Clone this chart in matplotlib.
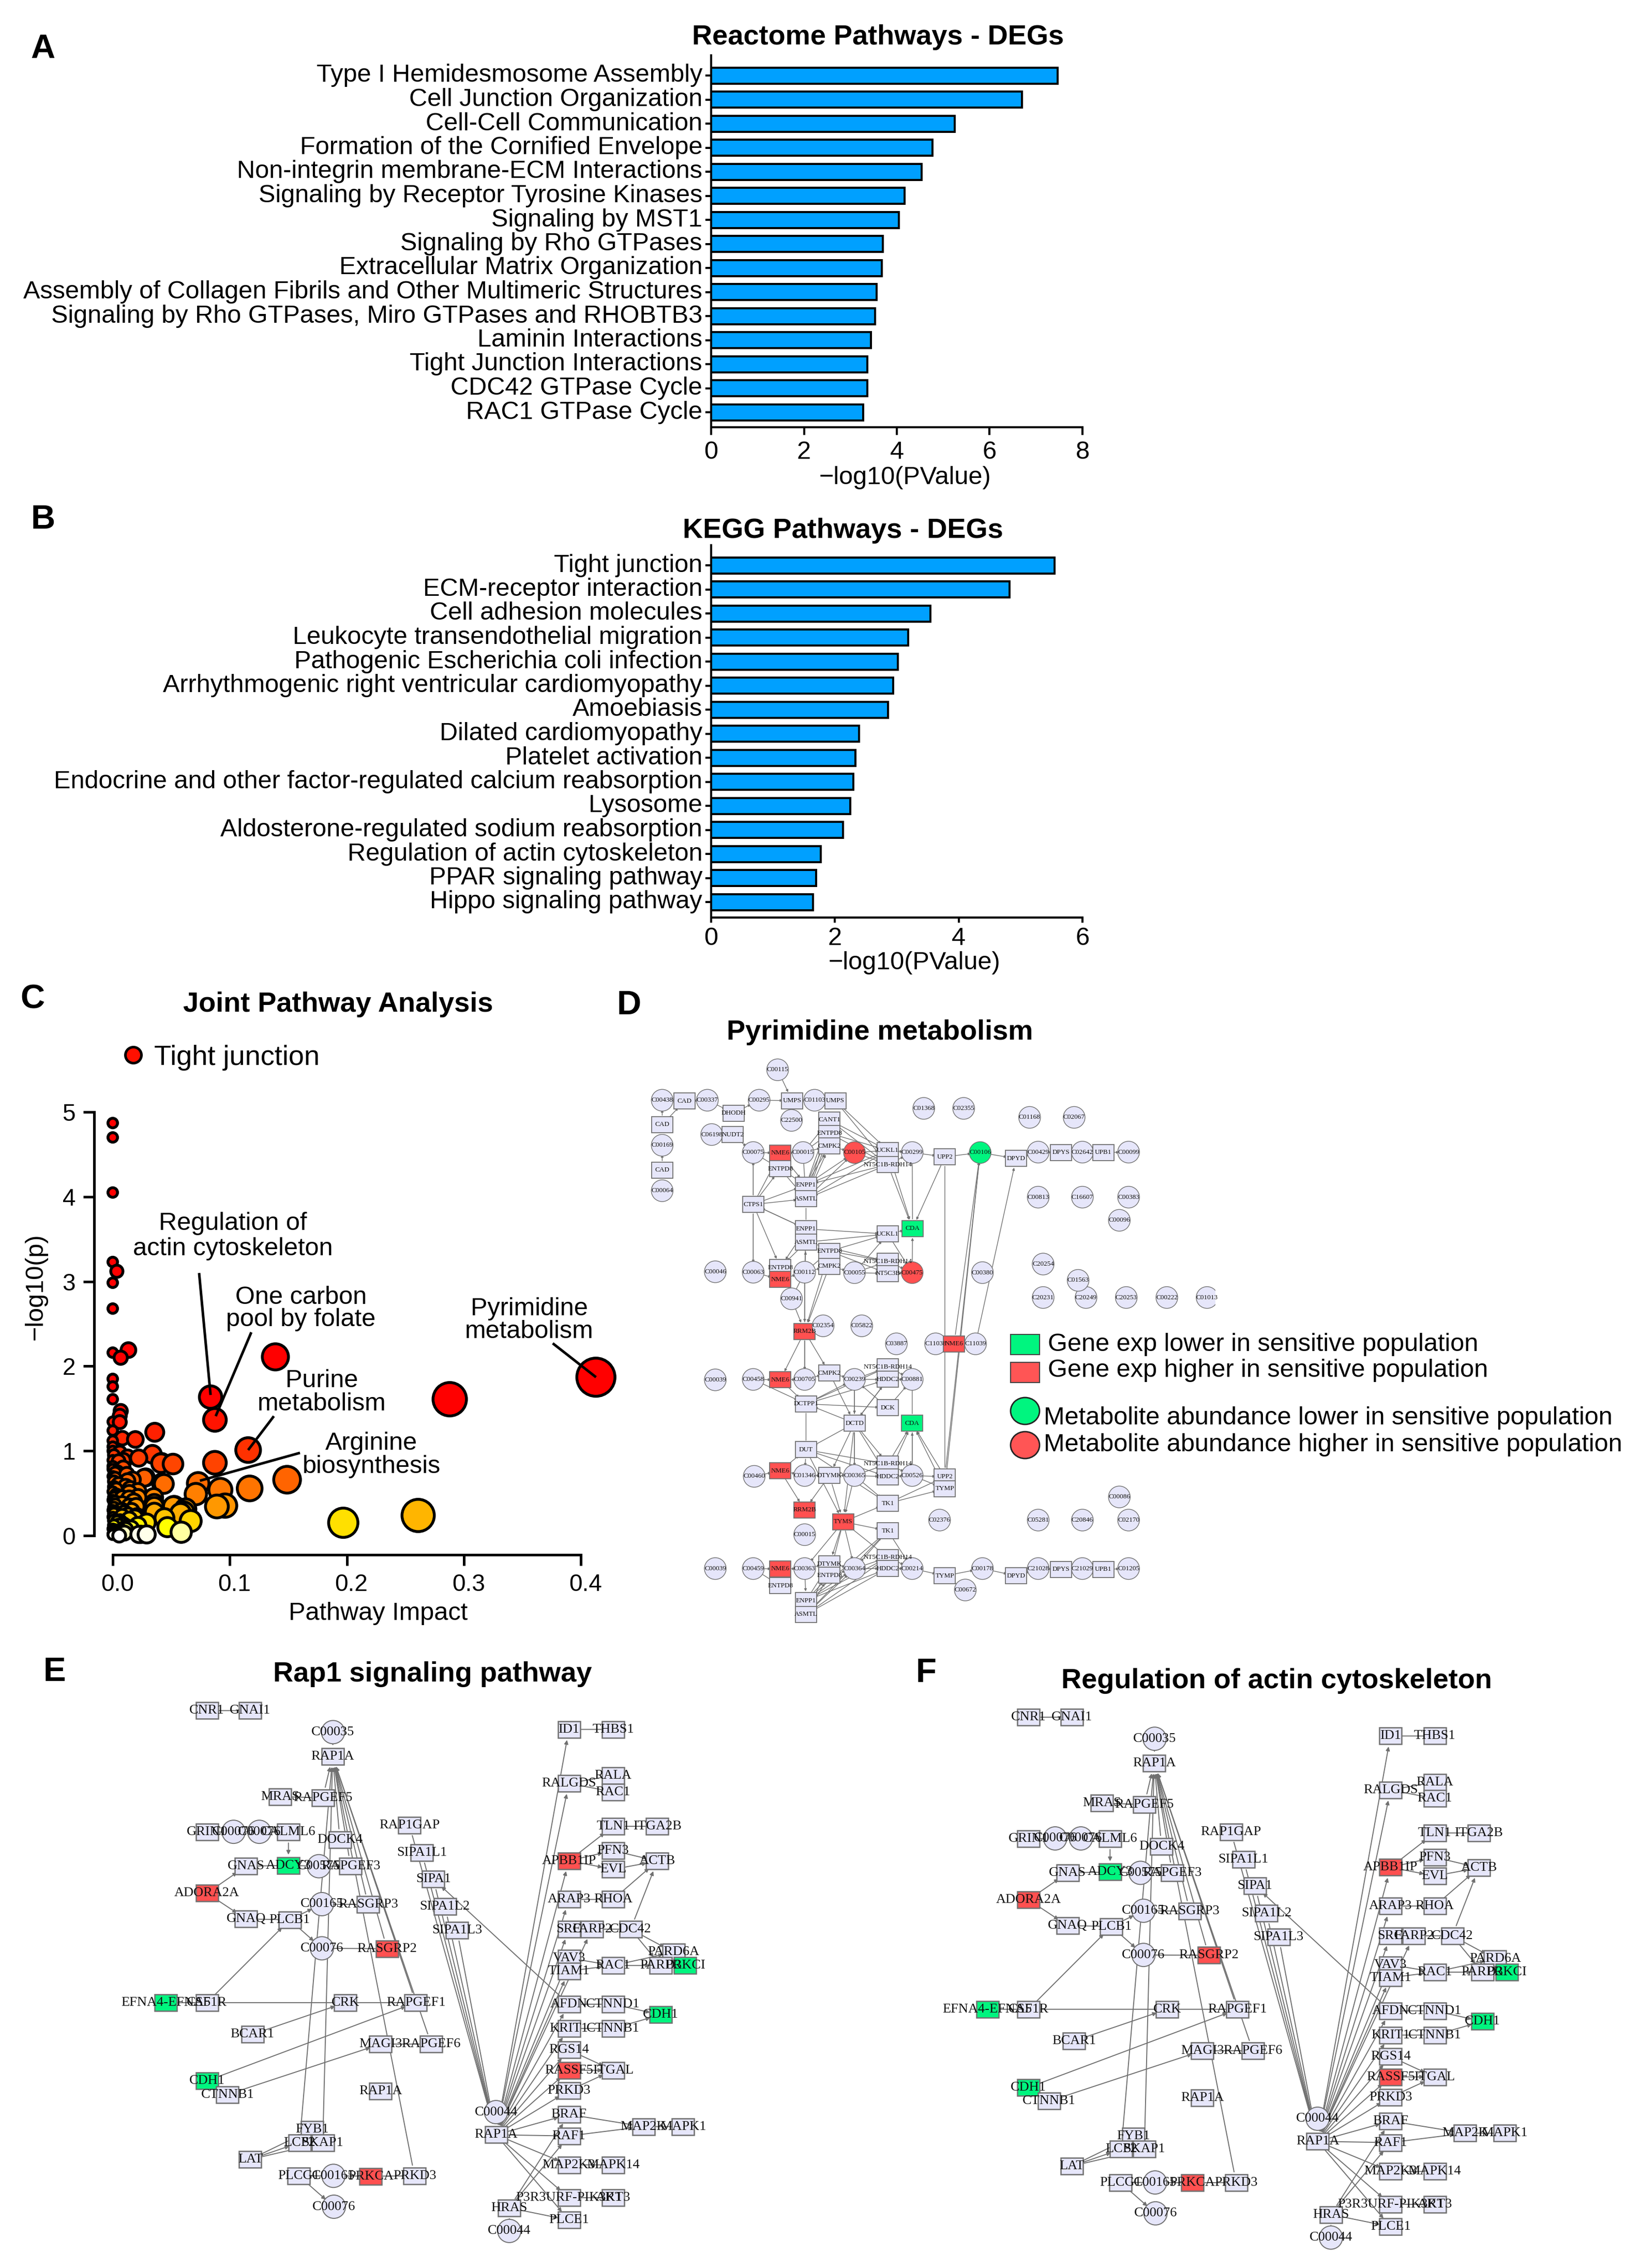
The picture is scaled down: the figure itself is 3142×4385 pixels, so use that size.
import numpy as np
import matplotlib
matplotlib.use("Agg")
import matplotlib.pyplot as plt
from matplotlib.patches import Rectangle, Ellipse, FancyArrowPatch
from matplotlib.transforms import ScaledTranslation

plt.rcParams['font.family'] = ['Liberation Sans', 'DejaVu Sans']

W, H = 3142, 4385
DPI = 100
PT = 72 / DPI  # points per pixel

# ---------- data: bar panels ----------
reactome_terms = ["Type I Hemidesmosome Assembly", "Cell Junction Organization", "Cell-Cell Communication",
                  "Formation of the Cornified Envelope", "Non-integrin membrane-ECM Interactions",
                  "Signaling by Receptor Tyrosine Kinases", "Signaling by MST1", "Signaling by Rho GTPases",
                  "Extracellular Matrix Organization", "Assembly of Collagen Fibrils and Other Multimeric Structures",
                  "Signaling by Rho GTPases, Miro GTPases and RHOBTB3", "Laminin Interactions",
                  "Tight Junction Interactions", "CDC42 GTPase Cycle", "RAC1 GTPase Cycle"]
reactome_vals = [7.47, 6.70, 5.25, 4.77, 4.53, 4.17, 4.05, 3.70, 3.68, 3.56, 3.53, 3.44, 3.37, 3.37, 3.28]

kegg_terms = ["Tight junction", "ECM-receptor interaction", "Cell adhesion molecules",
              "Leukocyte transendothelial migration", "Pathogenic Escherichia coli infection",
              "Arrhythmogenic right ventricular cardiomyopathy", "Amoebiasis", "Dilated cardiomyopathy",
              "Platelet activation", "Endocrine and other factor-regulated calcium reabsorption", "Lysosome",
              "Aldosterone-regulated sodium reabsorption", "Regulation of actin cytoskeleton",
              "PPAR signaling pathway", "Hippo signaling pathway"]
kegg_vals = [5.55, 4.82, 3.54, 3.18, 3.02, 2.94, 2.86, 2.39, 2.33, 2.30, 2.25, 2.13, 1.77, 1.70, 1.65]

# ---------- data: scatter panel ----------
impact = [0, 0, 0, 0, .0035, 0, 0, 0, .0134, .0068, 0, 0, 0, .0068, .006, .006, 0, 0, .0082, .0193, .0359, 0, 0,
          .0339, .0222, .009, .0127, .0412, .0515, 0, 0, .005, .0282, .0437, .0127, .017, .002, .001, .005, .0141,
          .0215, .035, .001, .0082, .002, .0215, .0355, .0141, .02, .001, .0355, .0525, .0622, .058, .0442, .0666,
          .0467, .0585, .0224, .029, .0055, 0, .0156, .0215, .005, .001, .0141, .0206, .029,
          .4129, .288, .139, .0836, .0873, .1157, .0873, .149, .117, .073, .071, .092, .089, .096, .197, .261,
          .0416, .042, .027, .0355, .0518, .0606, .0237, .008, .004, .003, .008, .011,
          0, .001, 0, .002, 0, .001, 0, .003, 0, .002, .001, 0, .002, 0, .001, .004, 0, .002, .001, 0,
          .006, .009, .012, .015, .005, .008, .011, .014, .018, .007, .01, .013, .016, .006, .009, .012, .019, .004, .007, .01]
logp = [4.87, 4.70, 4.05, 3.23, 3.12, 2.985, 2.68, 2.16, 2.19, 2.10, 1.85, 1.76, 1.61, 1.47, 1.415, 1.34, 1.345,
        1.24, 1.15, 1.135, 1.22, 1.12, 1.05, .96, .915, .89, .925, .855, .845, .89, .785, .88, .687, .61, .645, .66,
        .68, .575, .61, .505, .52, .45, .45, .45, .365, .45, .38, .345, .345, .26, .277, .347, .312, .26, .207,
        .172, .10, .04, .014, .014, 0, .01, .084, .12, .12, .12, .19, .224, .154,
        1.87, 1.61, 2.11, 1.635, 1.366, 1.01, .86, .66, .557, .617, .49, .54, .344, .354, .152, .238,
        .86, .617, .683, .344, .344, .278, .015, .30, .75, .55, .23, .07,
        1.0, .95, .82, .74, .70, .64, .52, .48, .42, .40, .33, .30, .28, .22, .18, .16, .08, .06, .03, .02,
        .98, .80, .72, .55, .46, .38, .58, .44, .40, .30, .27, .24, .29, .17, .13, .10, .21, .035, .05, .03]
label_text = ["Regulation of\nactin cytoskeleton", "One carbon\npool by folate", "Pyrimidine\nmetabolism",
              "Purine\nmetabolism", "Arginine\nbiosynthesis"]
label_xy = [(.1026, 3.535), (.1609, 2.68), (.356, 2.54), (.1787, 1.69), (.2211, 0.95)]
label_spacing = [1.12, .97, .97, 1.0, 1.0]
leader_x = [(.0738, .0836), (.1184, .088), (.376, .413), (.1377, .1157), (.16, .0745)]
leader_y = [(3.10, 1.66), (2.40, 1.41), (2.27, 1.87), (1.41, 1.01), (.977, .648)]

# ---------- data: pathway networks (node id, x, y, type) ----------
# id text before '#' is the node label; g gene, c compound; r/g suffix = higher / lower
D_NODES = [("C00115",476,203,"c"),("C00438",126,274,"c"),("CAD",194,276,"g"),("C00337",263,274,"c"),("DHODH",343,304,"g"),
 ("C00295",420,274,"c"),("UMPS",520,275,"g"),("C01103",588,274,"c"),("UMPS#b",651,275,"g"),("C22500",518,321,"c"),
 ("CAD#b",126,331,"g"),("C00169",126,379,"c"),("CAD#c",126,437,"g"),("C00064",126,485,"c"),("C06198",276,354,"c"),
 ("NUDT2",340,354,"g"),("CANT1",633,320,"g"),("ENTPD8#b",633,351,"g"),("CMPK2",633,381,"g"),("C00075",402,396,"c"),
 ("NME6",484,397,"gr"),("C00015",553,396,"c"),("C00105",709,396,"cr"),("UCKL1",810,391,"g"),("NT5C1B-RDH14",810,424,"g"),
 ("C00299",884,396,"c"),("UPP2",983,406,"g"),("C00106",1090,396,"cg"),("DPYD",1199,410,"g"),("C00429",1266,395,"c"),
 ("DPYS",1335,396,"g"),("C02642",1400,395,"c"),("UPB1",1463,396,"g"),("C00099",1540,395,"c"),("ENTPD8",484,434,"g"),
 ("ENPP1",562,472,"g"),("ASMTL",562,504,"g"),("CTPS1",402,517,"g"),("C01368",919,293,"c"),("C02355",1040,293,"c"),
 ("C01168",1240,314,"c"),("C02067",1375,314,"c"),("C00813",1266,500,"c"),("C16607",1400,500,"c"),("C00383",1540,500,"c"),
 ("C00096",1512,554,"c"),("ENPP1#b",562,574,"g"),("UCKL1#b",810,586,"g"),("CDA",885,573,"gg"),("ASMTL#b",562,605,"g"),
 ("ENTPD8#d",633,626,"g"),("NT5C1B-RDH14#b",810,650,"g"),("CMPK2#b",633,661,"g"),("C00046",287,674,"c"),("C00063",402,675,"c"),
 ("ENTPD8#c",484,664,"g"),("NME6#b",484,692,"gr"),("C00112",558,675,"c"),("C00055",709,676,"c"),("NT5C3B",810,678,"g"),
 ("C00475",884,676,"cr"),("C00380",1097,676,"c"),("C20254",1281,656,"c"),("C20231",1281,734,"c"),("C20249",1411,734,"c"),
 ("C01563",1387,694,"c"),("C20253",1533,734,"c"),("C00222",1656,734,"c"),("C01013",1778,734,"c"),("C00941",518,737,"c"),
 ("RRM2B",558,813,"gr"),("C02354",614,800,"c"),("C05822",731,800,"c"),("C03887",836,842,"c"),("C11038",955,842,"c"),
 ("C11039",1076,842,"c"),("NME6#f",1011,842,"gr"),("C00039",287,926,"c"),("C00458",402,925,"c"),("NME6#c",484,926,"gr"),
 ("C00705",558,925,"c"),("CMPK2#c",633,910,"g"),("C00239",709,925,"c"),("NT5C1B-RDH14#c",810,896,"g"),("HDDC2",810,925,"g"),
 ("C00881",884,925,"c"),("DCTPP1",562,982,"g"),("DCK",810,991,"g"),("CDA#b",884,1027,"gg"),("DCTD",709,1027,"g"),
 ("DUT",562,1089,"g"),("NME6#d",484,1138,"gr"),("C00460",405,1151,"c"),("C01346",558,1149,"c"),("DTYMK",633,1149,"g"),
 ("C00365",709,1149,"c"),("NT5C1B-RDH14#d",810,1122,"g"),("HDDC2#b",810,1152,"g"),("C00526",884,1149,"c"),("UPP2#b",983,1152,"g"),
 ("TYMP",983,1180,"g"),("TK1",810,1214,"g"),("RRM2B#b",558,1229,"gr"),("TYMS",675,1257,"gr"),("C02376",967,1253,"c"),
 ("C05281",1266,1253,"c"),("C20846",1400,1253,"c"),("C02170",1540,1253,"c"),("C00086",1512,1199,"c"),("TK1#b",810,1278,"g"),
 ("C00015#b",558,1287,"c"),("C00039#b",287,1366,"c"),("C00459",402,1366,"c"),("NME6#e",484,1367,"gr"),("C00363",558,1366,"c"),
 ("DTYMK#b",633,1355,"g"),("ENTPD8#f",633,1382,"g"),("C00364",709,1366,"c"),("NT5C1B-RDH14#e",810,1340,"g"),("HDDC2#c",810,1366,"g"),
 ("C00214",884,1366,"c"),("TYMP#b",983,1383,"g"),("C00178",1097,1366,"c"),("DPYD#b",1199,1383,"g"),("C21028",1266,1366,"c"),
 ("DPYS#b",1335,1368,"g"),("C21029",1400,1366,"c"),("UPB1#b",1463,1368,"g"),("C01205",1540,1366,"c"),("C00672",1045,1416,"c"),
 ("ENTPD8#e",484,1406,"g"),("ENPP1#c",562,1441,"g"),("ASMTL#c",562,1473,"g")]
D_ARROWS = """C00115>UMPS C00438>CAD CAD>C00337 C00337>DHODH DHODH>C00295 C00295>UMPS UMPS>C01103 C01103>UMPS#b CAD#b>C00438 CAD#b>CAD
C00169>CAD#b CAD#c>C00169 C00064>CAD#c C06198>NUDT2 NUDT2>C00075 C00075>NME6 NME6>C00015 UMPS#b>UCKL1 UMPS#b>NT5C1B-RDH14
CANT1>UCKL1 CANT1>NT5C1B-RDH14 ENTPD8#b>UCKL1 ENTPD8#b>NT5C1B-RDH14 CMPK2>C00105 C00105>UCKL1 C00105>NT5C1B-RDH14 UCKL1>C00299
NT5C1B-RDH14>C00299 ENPP1>CANT1 ENPP1>ENTPD8#b ENPP1>CMPK2 ASMTL>CANT1 ASMTL>ENTPD8#b ASMTL>CMPK2 ENPP1>C00105 ASMTL>C00105
UCKL1>ENPP1 UCKL1>ASMTL NT5C1B-RDH14>ENPP1 NT5C1B-RDH14>ASMTL CTPS1>C00075 CTPS1>ENTPD8 CTPS1>NME6 CTPS1>ENPP1 CTPS1>ASMTL
NME6>ENPP1 ENTPD8>ENPP1 ENTPD8>ASMTL C00015>ENTPD8#b C00015>CANT1 C00015>CMPK2 C00299>UPP2 UPP2>C00106 C00106>DPYD DPYD>C00429 C00429>DPYS
DPYS>C02642 C02642>UPB1 UPB1>C00099 UPP2>CDA NT5C1B-RDH14>CDA UCKL1>CDA CTPS1>ENPP1#b ENPP1#b>CTPS1 CTPS1>C00063 CTPS1>ENTPD8#c
C00063>NME6#b NME6#b>C00112 C00112>ENPP1#b C00112>ASMTL#b C00112>ENTPD8#d C00112>CMPK2#b ENPP1#b>UCKL1#b ASMTL#b>UCKL1#b
ASMTL#b>NT5C1B-RDH14#b ENTPD8#d>UCKL1#b ENTPD8#d>NT5C1B-RDH14#b ENTPD8#d>NT5C3B CMPK2#b>C00055 C00055>NT5C1B-RDH14#b C00055>NT5C3B
C00055>UCKL1#b NT5C1B-RDH14#b>C00475 NT5C3B>C00475 UCKL1#b>C00475 C00475>CDA UCKL1#b>CDA ASMTL#b>ENTPD8#c ENPP1#b>ENTPD8#c
C00112>RRM2B CMPK2#b>RRM2B ENTPD8#d>RRM2B C00941>RRM2B RRM2B>NME6#c RRM2B>C00705 RRM2B>CMPK2#c C00458>NME6#c NME6#c>C00705
C00705>CMPK2#c CMPK2#c>C00239 C00239>NT5C1B-RDH14#c C00239>HDDC2 NT5C1B-RDH14#c>C00881 HDDC2>C00881 NME6#c>DCTPP1 C00458>DCTPP1
DCTPP1>C00239 DCTPP1>DCK DCTPP1>HDDC2 DCTPP1>NT5C1B-RDH14#c DCK>C00239 DCK>C00881 C00239>DCTD CMPK2#c>DCTD DCTD>DCTPP1 DCTD>HDDC2
HDDC2>DCTD DCTD>DUT DCTD>DTYMK DCTD>C00365 DCTD>NT5C1B-RDH14#d DCTD>HDDC2#b C00526>CDA#b NT5C1B-RDH14#d>CDA#b HDDC2#b>CDA#b
UPP2#b>CDA#b TYMP>CDA#b DUT>C01346 NME6#d>DUT C00460>NME6#d NME6#d>C01346 C01346>DTYMK DTYMK>C00365 C00365>NT5C1B-RDH14#d
C00365>HDDC2#b NT5C1B-RDH14#d>C00526 HDDC2#b>C00526 C00526>UPP2#b C00526>TYMP DUT>NT5C1B-RDH14#d DUT>HDDC2#b DUT>TK1 C00365>TK1
C00365>TYMS DTYMK>TYMS DUT>TYMS DCTD>TYMS NME6#d>RRM2B#b DTYMK>RRM2B#b TYMS>TK1 TYMS>TK1#b TK1>UPP2#b TK1>TYMP TK1#b>C00214
TK1#b>C00364 TYMS>C00363 TYMS>DTYMK#b TYMS>ENTPD8#f TYMS>C00364 TYMS>NT5C1B-RDH14#e C00459>NME6#e NME6#e>C00363 C00459>ENTPD8#e
C00363>DTYMK#b DTYMK#b>C00364 ENTPD8#f>C00364 C00364>NT5C1B-RDH14#e C00364>HDDC2#c NT5C1B-RDH14#e>C00214 HDDC2#c>C00214 C00214>TYMP#b
TYMP#b>C00178 C00178>DPYD#b DPYD#b>C21028 C21028>DPYS#b DPYS#b>C21029 C21029>UPB1#b UPB1#b>C01205 ENPP1#c>DTYMK#b ENPP1#c>ENTPD8#f
ENPP1#c>C00364 ASMTL#c>DTYMK#b ASMTL#c>ENTPD8#f ASMTL#c>C00364 ENPP1#c>NT5C1B-RDH14#e ASMTL#c>NT5C1B-RDH14#e ASMTL#c>HDDC2#c
ENPP1#c>HDDC2#c ENPP1#c>TK1#b ASMTL#c>TK1#b C00363>ENPP1#c NME6#e>ENTPD8#e UPP2#b>C00106 TYMP>C00106 NME6#f>C00106 C11039>DPYD""".split()
D_LINES = """C00075|ENTPD8 C00015|ASMTL C00075|CTPS1 CTPS1|C00063 ASMTL|ENPP1#b ASMTL#b|C00112 C00299|CDA C00112|C00941
RRM2B|C00112 C00705|RRM2B C00881|CDA#b C00239|DCTD DCTPP1|DUT C00526|CDA#b C00365|DCTD UPP2|UPP2#b NME6#f|C11038 NME6#f|C11039 TYMP#b|C00672""".split()

R_NODES = [("CNR1",362,142,"g"),("GNAI1",463,142,"g"),("C00035",656,197,"c"),("RAP1A",655,259,"g"),("MRAS",533,362,"g"),
 ("RAPGEF5",632,365,"g"),("GRIN1",362,453,"g"),("C00076#a",424,452,"c"),("C00076#b",484,452,"c"),("CALML6",552,453,"g"),
 ("DOCK4",672,472,"g"),("GNAS",453,540,"g"),("ADCY3",552,538,"gg"),("C00575",623,540,"c"),("RAPGEF3",697,540,"g"),
 ("ADORA2A",362,609,"gr"),("C00165",630,637,"c"),("RASGRP3",738,638,"g"),("GNAQ",453,675,"g"),("PLCB1",555,677,"g"),
 ("C00076",630,750,"c"),("RASGRP2",782,751,"gr"),("CSF1R",362,889,"g"),("EFNA4-EFNA5",266,889,"gg"),("CRK",685,889,"g"),
 ("RAPGEF1",849,889,"g"),("BCAR1",468,970,"g"),("MAGI3",767,995,"g"),("RAPGEF6",885,995,"g"),("CDH1",362,1089,"gg"),
 ("CTNNB1",410,1124,"g"),("RAP1A#c",767,1115,"g"),("FYB1",607,1213,"g"),("LCP2",578,1247,"g"),("SKAP1",632,1247,"g"),
 ("LAT",463,1290,"g"),("PLCG1",576,1332,"g"),("C00165#b",657,1332,"c"),("PRKCA",744,1333,"gr"),("PRKD3",846,1332,"g"),
 ("C00076#c",658,1411,"c"),("RAP1GAP",834,435,"g"),("SIPA1L1",863,505,"g"),("SIPA1",890,573,"g"),("SIPA1L2",917,643,"g"),
 ("SIPA1L3",945,704,"g"),("C00044",1036,1169,"c"),("RAP1A#b",1036,1227,"g"),("ID1",1206,190,"g"),("THBS1",1309,190,"g"),
 ("RALGDS",1206,328,"g"),("RALA",1309,308,"g"),("RAC1",1309,350,"g"),("TLN1",1309,438,"g"),("ITGA2B",1412,438,"g"),
 ("APBB1IP",1206,526,"gr"),("PFN3",1309,500,"g"),("EVL",1309,548,"g"),("ACTB",1412,527,"g"),("ARAP3",1206,625,"g"),
 ("RHOA",1309,625,"g"),("SRC",1206,701,"g"),("FARP2",1260,701,"g"),("CDC42",1350,701,"g"),("VAV3",1206,775,"g"),
 ("TIAM1",1206,808,"g"),("RAC1#b",1309,794,"g"),("PARD6A",1450,760,"g"),("PARD3",1420,794,"g"),("PRKCI",1477,794,"gg"),
 ("AFDN",1206,893,"g"),("CTNND1",1309,893,"g"),("CDH1#b",1420,920,"gg"),("KRIT1",1206,955,"g"),("CTNNB1#b",1309,955,"g"),
 ("RGS14",1206,1010,"g"),("RASSF5",1206,1062,"gr"),("ITGAL",1309,1062,"g"),("PRKD3#b",1206,1114,"g"),("BRAF",1206,1175,"g"),
 ("RAF1",1206,1230,"g"),("MAP2K",1380,1206,"g"),("MAPK1",1472,1206,"g"),("MAP2K3",1206,1304,"g"),("MAPK14",1309,1304,"g"),
 ("P3R3URF-PIK3R1",1206,1388,"g"),("AKT3",1309,1388,"g"),("HRAS",1067,1414,"g"),("PLCE1",1206,1445,"g"),("C00044#b",1067,1473,"c")]
R_ARROWS = """C00035>RAP1A RAPGEF5>RAP1A DOCK4>RAP1A RAPGEF3>RAP1A RASGRP3>RAP1A RASGRP2>RAP1A RAPGEF1>RAP1A RAPGEF6>RAP1A PRKD3>RAP1A
LCP2>RAP1A SKAP1>RAP1A CALML6>ADCY3 ADORA2A>GNAS ADORA2A>GNAQ CSF1R>PLCB1 PLCB1>C00165 PLCB1>C00076 BCAR1>CRK CDH1>RAPGEF1
CTNNB1>MAGI3 LAT>FYB1 LAT>LCP2 LAT>SKAP1 PLCG1>C00076#c C00044>RAP1A#b RAP1GAP>RAP1A#b SIPA1L1>RAP1A#b SIPA1>RAP1A#b SIPA1L2>RAP1A#b
SIPA1L3>RAP1A#b RAP1A#b>ID1 RAP1A#b>RALGDS RAP1A#b>APBB1IP RAP1A#b>ARAP3 RAP1A#b>SRC RAP1A#b>FARP2 RAP1A#b>VAV3 RAP1A#b>TIAM1
RAP1A#b>AFDN RAP1A#b>KRIT1 RAP1A#b>RGS14 RAP1A#b>RASSF5 RAP1A#b>PRKD3#b RAP1A#b>BRAF RAP1A#b>RAF1 RAP1A#b>MAP2K3 RAP1A#b>P3R3URF-PIK3R1
RAP1A#b>PLCE1 APBB1IP>TLN1 APBB1IP>PFN3 APBB1IP>EVL PFN3>ACTB EVL>ACTB RHOA>ACTB CDC42>ACTB CDC42>PARD6A CDC42>PARD3 VAV3>RAC1#b
TIAM1>RAC1#b RAC1#b>PARD6A RAC1#b>PARD3 CTNND1>CDH1#b CTNNB1#b>CDH1#b RGS14>ITGAL RASSF5>ITGAL PRKD3#b>ITGAL HRAS>PLCE1 HRAS>RAF1
HRAS>BRAF AFDN>SIPA1 BRAF>MAP2K RAF1>MAP2K""".split()
R_LINES = """CNR1|GNAI1 MRAS|RAPGEF5 GRIN1|C00076#a C00076#a|C00076#b C00076#b|CALML6 GNAS|ADCY3 ADCY3|C00575 C00575|RAPGEF3 GNAQ|PLCB1
C00165|RASGRP3 C00076|RASGRP2 EFNA4-EFNA5|CSF1R CSF1R|CRK CRK|RAPGEF1 MAGI3|RAPGEF6 PLCG1|C00165#b C00165#b|PRKCA PRKCA|PRKD3 ID1|THBS1
RALGDS|RALA RALGDS|RAC1 TLN1|ITGA2B ARAP3|RHOA SRC|FARP2 FARP2|CDC42 PARD3|PRKCI AFDN|CTNND1 KRIT1|CTNNB1#b MAP2K|MAPK1 MAP2K3|MAPK14
P3R3URF-PIK3R1|AKT3 C00044#b|HRAS""".split()

legend_gene = ["Gene exp lower in sensitive population", "Gene exp higher in sensitive population"]
legend_met = ["Metabolite abundance lower in sensitive population", "Metabolite abundance higher in sensitive population"]

# ---------- figure helpers ----------
fig = plt.figure(figsize=(W / DPI, H / DPI), dpi=DPI, facecolor="white")

def px_axes(l, t, r, b):
    return fig.add_axes([l / W, 1 - b / H, (r - l) / W, (b - t) / H])

def nudge(labels, dx_px, dy_px):
    off = ScaledTranslation(dx_px / DPI, dy_px / DPI, fig.dpi_scale_trans)
    for lb in labels:
        lb.set_transform(lb.get_transform() + off)

BLUE = "#00A0FF"
LAB = 35

def bar_panel(top, first, last, bottom, terms, vals, xmax, xticks, xlen, xpad):
    ax = px_axes(1375, top, 2093, bottom)
    step = (last - first) / (len(terms) - 1)
    pos = np.arange(len(terms))
    ax.barh(pos, vals, height=31 / step, color=BLUE, edgecolor="black", linewidth=4 * PT, zorder=3)
    ax.set_xlim(0, xmax)
    ax.set_ylim((bottom - first) / step, -(first - top) / step)
    ax.set_yticks(pos)
    ax.set_yticklabels(terms, fontsize=LAB)
    ax.set_xticks(xticks)
    ax.tick_params(axis="y", length=11 * PT, width=4 * PT, pad=6 * PT)
    ax.tick_params(axis="x", length=xlen * PT, width=4 * PT, pad=xpad * PT, labelsize=LAB)
    for s in ("top", "right"):
        ax.spines[s].set_visible(False)
    for s in ("left", "bottom"):
        ax.spines[s].set_linewidth(4 * PT)
    ax.patch.set_alpha(0)
    nudge(ax.get_yticklabels(), 0, 5)
    return ax

bar_panel(107, 146, 797, 826, reactome_terms, reactome_vals, 8, [0, 2, 4, 6, 8], 15, 11)
bar_panel(1054, 1093, 1744, 1774, kegg_terms, kegg_vals, 6, [0, 2, 4, 6], 10, 8)

# ---------- scatter ----------
sc_x0, sc_xk, sc_y0, sc_yk = 218, 2262.5, 2969, 163.8
axc = px_axes(182, 2140, 1223, 3006)
axc.set_xlim((182 - sc_x0) / sc_xk, (1223 - sc_x0) / sc_xk)
axc.set_ylim((sc_y0 - 3006) / sc_yk, (sc_y0 - 2140) / sc_yk)
xs = np.array(impact, float)
ys = np.array(logp, float)
order = np.argsort(-ys, kind="stable")
xs, ys = xs[order], ys[order]
G = np.interp(ys, [0, .1, .15, .24, .35, .5, .66, .85, 1.0, 1.3, 1.6], [255, 255, 225, 180, 150, 125, 100, 68, 50, 25, 0])
Bc = np.interp(ys, [0, .02, .05, .1], [255, 225, 128, 0])
cols = np.c_[np.ones_like(G), G / 255, Bc / 255]
diam = 24 + 86 * np.sqrt(xs) - 5.5
axc.scatter(xs, ys, s=(diam * PT) ** 2, c=cols, edgecolors="black", linewidths=5.5 * PT, zorder=3, clip_on=False)
axc.set_yticks([0, 1, 2, 3, 4, 5])
axc.set_xticks([0, .1, .2, .3, .4])
axc.set_xticklabels(["0.0", "0.1", "0.2", "0.3", "0.4"])
axc.tick_params(axis="both", length=21 * PT, width=5 * PT, labelsize=33, pad=15 * PT)
nudge(axc.get_xticklabels(), 9, 0)
for s in ("top", "right"):
    axc.spines[s].set_visible(False)
axc.spines["left"].set_bounds(0, 5)
axc.spines["bottom"].set_bounds(0, .4)
axc.spines["left"].set_linewidth(5 * PT)
axc.spines["bottom"].set_linewidth(5 * PT)
axc.patch.set_alpha(0)
for lx, ly in zip(leader_x, leader_y):
    axc.plot(lx, ly, color="black", lw=5 * PT, zorder=4, solid_capstyle="butt", clip_on=False)
for t, (tx, ty), sp in zip(label_text, label_xy, label_spacing):
    axc.text(tx, ty, t, fontsize=LAB, ha="center", va="center", linespacing=sp, zorder=5)

# ---------- networks ----------
GRAY = "#707070"
FILL = {"g": "#E6E6FA", "c": "#E6E6FA", "gr": "#FF5050", "cr": "#FF5050", "gg": "#00F57F", "cg": "#00F57F"}

def draw_net(rect, fx, fy, nodes, arrows, lines, bw, bh, dc, fs, lw, head, shrink):
    l, t, r, b = rect
    ax = px_axes(l, t, r, b)
    ax.set_xlim(0, (r - l) * fx)
    ax.set_ylim((b - t) * fy, 0)
    ax.axis("off")
    pos = {n[0]: (n[1], n[2]) for n in nodes}
    for e, style in [(arrows, "-|>"), (lines, "-")]:
        sep = ">" if style == "-|>" else "|"
        for item in e:
            a, c = item.split(sep)
            ax.add_patch(FancyArrowPatch(pos[a], pos[c], arrowstyle=style, mutation_scale=head, color=GRAY,
                                         lw=lw, shrinkA=shrink, shrinkB=shrink, zorder=2))
    for nid, x, y, kind in nodes:
        fc = FILL[kind]
        if kind[0] == "g":
            w, h = bw * fx, bh * fy
            ax.add_patch(Rectangle((x - w / 2, y - h / 2), w, h, fc=fc, ec=GRAY, lw=lw * 1.3, zorder=3))
        else:
            ax.add_patch(Ellipse((x, y), dc * fx, dc * fy, fc=fc, ec=GRAY, lw=lw, zorder=3))
    for nid, x, y, kind in nodes:
        ax.text(x, y, nid.split("#")[0], fontsize=fs, family=["Liberation Serif", "DejaVu Serif"], ha="center",
                va="center", color="#111111", zorder=4)
    return ax

draw_net((1200, 1900, 2350, 3200), 1.568, 1.206, D_NODES, D_ARROWS, D_LINES, 41, 31, 42, 9.5, 1.0, 7, 13)
draw_net((100, 3200, 1400, 4385), 1.206, 1.323, R_NODES, R_ARROWS, R_LINES, 43, 32, 45, 19, 1.4, 11, 15)
draw_net((1688.6, 3212.8, 2988.6, 4385), 1.206, 1.323, R_NODES, R_ARROWS, R_LINES, 43, 32, 45, 19, 1.4, 11, 15)

# ---------- overlay for titles, letters and legend ----------
ov = fig.add_axes([0, 0, 1, 1], zorder=10)
ov.set_xlim(0, W)
ov.set_ylim(H, 0)
ov.axis("off")

titles = [("Reactome Pathways - DEGs", 1698, 72), ("KEGG Pathways - DEGs", 1630, 1026), ("Joint Pathway Analysis", 654, 1942),
          ("Pyrimidine metabolism", 1701, 1996), ("Rap1 signaling pathway", 836, 3237),
          ("Regulation of actin cytoskeleton", 2468, 3250)]
for t, x, y in titles:
    ov.text(x, y, t, fontsize=39, fontweight="bold", ha="center", va="center")
letters = [("A", 83, 95), ("B", 83, 1005), ("C", 63, 1932), ("D", 1216, 1944), ("E", 105, 3233), ("F", 1791, 3235)]
for t, x, y in letters:
    ov.text(x, y, t, fontsize=47, fontweight="bold", ha="center", va="center")

ov.text(1750, 924, "\u2212log10(PValue)", fontsize=LAB, ha="center", va="center")
ov.text(1768, 1861, "\u2212log10(PValue)", fontsize=LAB, ha="center", va="center")
ov.text(731, 3119, "Pathway Impact", fontsize=LAB, ha="center", va="center")
ov.text(69, 2488, "\u2212log10(p)", fontsize=LAB, rotation=90, ha="center", va="center")
ov.text(298, 2045, "Tight junction", fontsize=39, ha="left", va="center")
ov.add_patch(Ellipse((258, 2040), 31, 31, fc="#FF1000", ec="black", lw=5 * PT))

ov.add_patch(Rectangle((1954, 2580), 56, 39, fc="#00F57F", ec="#444444", lw=1.5))
ov.add_patch(Rectangle((1954, 2634), 56, 39, fc="#FF5555", ec="#444444", lw=1.5))
ov.add_patch(Ellipse((1982, 2728), 56, 52, fc="#00F57F", ec="#222222", lw=2))
ov.add_patch(Ellipse((1982, 2794), 56, 52, fc="#FF5555", ec="#222222", lw=2))
for t, y in zip(legend_gene, (2599, 2649)):
    ov.text(2026, y, t, fontsize=LAB, ha="left", va="center")
for t, y in zip(legend_met, (2741, 2793)):
    ov.text(2018, y, t, fontsize=LAB, ha="left", va="center")

fig.savefig("out.png", dpi=DPI, facecolor="white")
